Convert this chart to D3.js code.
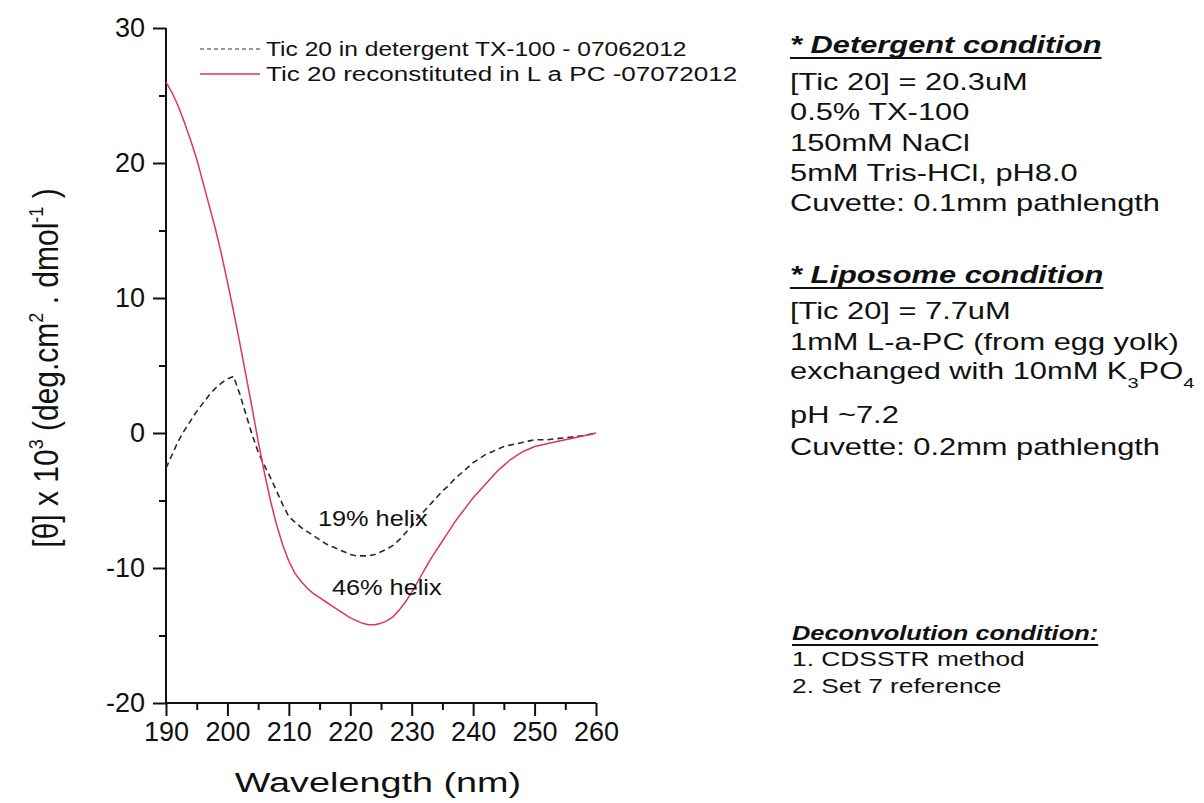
<!DOCTYPE html>
<html>
<head>
<meta charset="utf-8">
<script src="https://cdn.jsdelivr.net/npm/d3@7"></script>
<style>
  body { margin: 0; background: #fff; }
  text { font-family: "Liberation Sans", Arial, sans-serif; fill: #111; }
</style>
</head>
<body>
<div id="chart"></div>
<script>
// wavelength (nm) and mean residue ellipticity x 10^3
var wavelength = [190,191,192,193,194,195,196,197,198,199,200,201,202,203,204,205,206,207,208,209,
  210,211,212,213,214,215,216,217,218,219,220,221,222,223,224,225,226,227,228,229,
  230,231,232,233,234,235,236,237,238,239,240,241,242,243,244,245,246,247,248,249,
  250,252,254,256,258,260];

var detergent = [-2.6,-1.6,-0.6,0.2,0.9,1.6,2.2,2.8,3.3,3.7,4.0,4.2,2.9,1.4,-0.1,-1.4,-2.4,-3.3,-4.3,-5.3,
  -6.2,-6.6,-7.0,-7.3,-7.6,-7.9,-8.2,-8.4,-8.6,-8.8,-9.0,-9.1,-9.1,-9.1,-9.0,-8.8,-8.6,-8.3,-7.9,-7.4,
  -6.9,-6.3,-5.8,-5.3,-4.8,-4.3,-3.9,-3.4,-3.0,-2.6,-2.2,-1.9,-1.6,-1.4,-1.2,-1.0,-0.9,-0.8,-0.7,-0.6,
  -0.5,-0.5,-0.4,-0.3,-0.2,0.0];

var liposome = [26.0,25.2,24.2,23.0,21.7,20.3,18.6,16.9,15.2,13.3,11.2,9.0,6.7,4.3,1.9,-0.6,-2.9,-5.0,-6.8,-8.3,
  -9.5,-10.4,-11.0,-11.5,-11.9,-12.2,-12.5,-12.8,-13.1,-13.4,-13.7,-13.9,-14.1,-14.2,-14.2,-14.1,-13.9,-13.6,-13.1,-12.5,
  -11.8,-11.0,-10.2,-9.4,-8.7,-8.0,-7.3,-6.6,-6.0,-5.4,-4.8,-4.3,-3.8,-3.3,-2.8,-2.4,-2.0,-1.7,-1.4,-1.2,
  -1.0,-0.8,-0.6,-0.4,-0.2,0.0];

var xTicks = [190,200,210,220,230,240,250,260];
var yTicks = [-20,-10,0,10,20,30];
var legendLabels = ["Tic 20 in detergent TX-100 - 07062012", "Tic 20 reconstituted in L a PC -07072012"];

var detergentNotes = ["[Tic 20] = 20.3uM", "0.5% TX-100", "150mM NaCl", "5mM Tris-HCl, pH8.0", "Cuvette: 0.1mm pathlength"];
var liposomeNotes = ["[Tic 20] = 7.7uM", "1mM L-a-PC (from egg yolk)"];
var liposomeNotes2 = ["pH ~7.2", "Cuvette: 0.2mm pathlength"];
var deconvNotes = ["1. CDSSTR method", "2. Set 7 reference"];

var svgWidth = 1204, svgHeight = 803;
var margin = {top: 28, right: 608, bottom: 100, left: 166};
var redColor = "#e2335c";

var svg = d3.select("#chart").append("svg")
  .attr("width", svgWidth)
  .attr("height", svgHeight);

var x = d3.scaleLinear().domain([190, 260]).range([margin.left, svgWidth - margin.right]);
var y = d3.scaleLinear().domain([-20, 30]).range([svgHeight - margin.bottom, margin.top]);

// axes: majors every 10, minors every 5
var plain = function(d) { return String(d); };
var xAxis = d3.axisBottom(x).tickValues(xTicks).tickSize(13).tickPadding(6).tickFormat(plain);
var xMinor = d3.axisBottom(x).tickValues([195,205,215,225,235,245,255]).tickSize(7).tickFormat("");
var yAxis = d3.axisLeft(y).tickValues(yTicks).tickSize(13).tickPadding(8).tickFormat(plain);
var yMinor = d3.axisLeft(y).tickValues([-15,-5,5,15,25]).tickSize(7).tickFormat("");

function styleAxis(g) {
  g.select(".domain").attr("stroke", "#111").attr("stroke-width", 2);
  g.selectAll(".tick line").attr("stroke", "#111").attr("stroke-width", 2);
  g.selectAll(".tick text").attr("font-size", 27).attr("fill", "#111")
    .attr("font-family", "Liberation Sans, Arial, sans-serif");
}

var bottomY = y(-20);
svg.append("g").attr("transform", `translate(0,${bottomY})`).call(xMinor).call(styleAxis)
  .select(".domain").remove();
svg.append("g").attr("transform", `translate(0,${bottomY})`).call(xAxis).call(styleAxis)
  .select(".domain").attr("d", `M${x(190)},0H${x(260)}`);
svg.append("g").attr("transform", `translate(${margin.left},0)`).call(yMinor).call(styleAxis)
  .select(".domain").remove();
svg.append("g").attr("transform", `translate(${margin.left},0)`).call(yAxis).call(styleAxis)
  .select(".domain").attr("d", `M0,${y(30)}V${y(-20)}`);

// curves
var line = d3.line()
  .x(function(d) { return x(d[0]); })
  .y(function(d) { return y(d[1]); });

svg.append("path")
  .datum(d3.zip(wavelength, detergent))
  .attr("d", line)
  .attr("fill", "none")
  .attr("stroke", "#2a2a2a")
  .attr("stroke-width", 1.6)
  .attr("stroke-dasharray", "6,4");

svg.append("path")
  .datum(d3.zip(wavelength, liposome))
  .attr("d", line)
  .attr("fill", "none")
  .attr("stroke", redColor)
  .attr("stroke-width", 1.5);

// stretched text helper (the figure's text is widened horizontally)
function label(xp, yp, str, size, sx, opts) {
  opts = opts || {};
  var t = svg.append("text")
    .attr("transform", `translate(${xp},${yp}) scale(${sx},1)`)
    .attr("font-size", size)
    .text(str);
  if (opts.bold) t.attr("font-weight", "bold");
  if (opts.italic) t.attr("font-style", "italic");
  if (opts.anchor) t.attr("text-anchor", opts.anchor);
  if (opts.underline) {
    var w = t.node().getComputedTextLength() * sx;
    svg.append("line")
      .attr("x1", xp).attr("x2", xp + w)
      .attr("y1", yp + 5).attr("y2", yp + 5)
      .attr("stroke", "#111").attr("stroke-width", 2);
  }
  return t;
}

// legend
svg.append("line").attr("x1", 200).attr("x2", 260).attr("y1", 49).attr("y2", 49)
  .attr("stroke", "#333").attr("stroke-width", 1.2).attr("stroke-dasharray", "4,3");
svg.append("line").attr("x1", 200).attr("x2", 260).attr("y1", 74).attr("y2", 74)
  .attr("stroke", redColor).attr("stroke-width", 1.5);
label(266, 56, legendLabels[0], 21, 1.17);
label(266, 81, legendLabels[1], 21, 1.24);

// helix annotations
label(318, 526, "19% helix", 22, 1.15);
label(332, 595, "46% helix", 22, 1.15);

// axis titles
label(378, 792, "Wavelength (nm)", 28, 1.35, {anchor: "middle"});

var yt = svg.append("text")
  .attr("transform", "translate(58,368) rotate(-90) scale(1,1.15)")
  .attr("text-anchor", "middle")
  .attr("font-size", 30);
yt.append("tspan").text("[\u03B8] x 10");
yt.append("tspan").attr("font-size", 18).attr("dy", -13).text("3");
yt.append("tspan").attr("dy", 13).text(" (deg.cm");
yt.append("tspan").attr("font-size", 18).attr("dy", -13).text("2");
yt.append("tspan").attr("dy", 13).text(" . dmol");
yt.append("tspan").attr("font-size", 18).attr("dy", -13).text("-1");
yt.append("tspan").attr("dy", 13).text(" )");

// condition notes on the right
var nx = 790, sxN = 1.34, fN = 23;
label(nx, 53, "* Detergent condition", fN, sxN, {bold: true, italic: true, underline: true});
detergentNotes.forEach(function(s, i) { label(nx, 90 + i * 30.3, s, fN, sxN); });

label(nx, 283, "* Liposome condition", fN, sxN, {bold: true, italic: true, underline: true});
liposomeNotes.forEach(function(s, i) { label(nx, 319 + i * 31, s, fN, sxN); });
var ex = label(nx, 379, "exchanged with 10mM K", fN, sxN);
ex.append("tspan").attr("font-size", 15).attr("dy", 9).text("3");
ex.append("tspan").attr("dy", -9).text("PO");
ex.append("tspan").attr("font-size", 15).attr("dy", 9).text("4");
liposomeNotes2.forEach(function(s, i) { label(nx, 423 + i * 32, s, fN, sxN); });

label(792, 640, "Deconvolution condition:", 21, 1.21, {bold: true, italic: true, underline: true});
deconvNotes.forEach(function(s, i) { label(792, 666 + i * 27, s, 21, 1.255); });
</script>
</body>
</html>
